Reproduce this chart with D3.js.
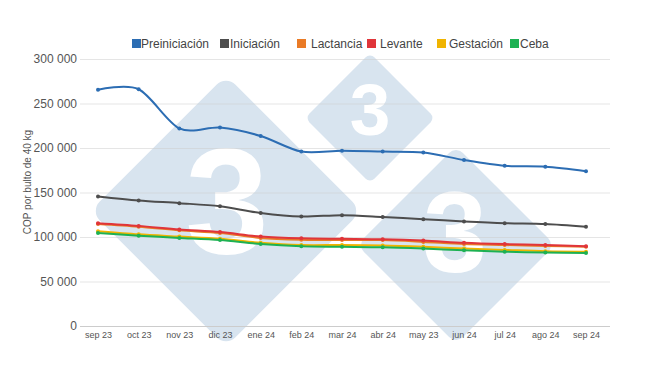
<!DOCTYPE html>
<html>
<head>
<meta charset="utf-8">
<script src="https://cdn.jsdelivr.net/npm/d3@7"></script>
<style>
  body { margin: 0; background: #fff; }
  svg { font-family: "Liberation Sans", Arial, sans-serif; }
</style>
</head>
<body>
<div id="graph"></div>
<script>
// data
var months = ["sep 23", "oct 23", "nov 23", "dic 23", "ene 24", "feb 24", "mar 24",
              "abr 24", "may 23", "jun 24", "jul 24", "ago 24", "sep 24"];
var preiniciacion = [265500, 266000, 222000, 223000, 213500, 196000, 197000, 196000, 195000, 186500, 180000, 179000, 174000];
var iniciacion    = [145500, 141000, 138000, 134500, 127000, 123000, 124500, 122500, 120000, 117500, 115500, 114500, 111500];
var lactancia     = [114500, 111500, 107500, 104500, 99000, 97000, 96500, 96500, 94500, 92000, 91000, 90000, 89000];
var levante       = [115500, 112500, 108500, 105500, 100500, 98500, 98000, 97500, 96000, 93500, 92000, 91000, 89500];
var gestacion     = [106500, 103000, 100500, 98000, 93500, 91000, 91000, 90500, 89000, 87000, 85500, 84000, 83500];
var ceba          = [104500, 101500, 99000, 96500, 92000, 89500, 89000, 88500, 87000, 85000, 83500, 82500, 82000];
var seriesNames = ["Preiniciación", "Iniciación", "Lactancia", "Levante", "Gestación", "Ceba"];
var yTicks = [0, 50000, 100000, 150000, 200000, 250000, 300000];

var colors = ["#2c6db3", "#4d4d4d", "#ea7b26", "#e0353a", "#f0b400", "#1db153"];
var series = [preiniciacion, iniciacion, lactancia, levante, gestacion, ceba];

var width = 650, height = 366;

var svg = d3.select("#graph").append("svg")
    .attr("width", width)
    .attr("height", height);

// scales
var x = d3.scalePoint().domain(months).range([98, 586]);
var y = d3.scaleLinear().domain([0, 300000]).range([326, 59]);

var fmt = d3.formatLocale({decimal: ",", thousands: " ", grouping: [3], currency: ["", ""]}).format(",");

// watermark diamonds (background logo)
var marks = [
  {cx: 226, cy: 211, side: 192, tx: 227, ty: 199, fs: 150},
  {cx: 370, cy: 118, side: 92, tx: 370, ty: 109, fs: 73},
  {cx: 456, cy: 245, side: 140, tx: 455, ty: 231, fs: 115}
];
var wm = svg.append("g");
marks.forEach(function(m) {
  wm.append("rect")
      .attr("x", -m.side / 2).attr("y", -m.side / 2)
      .attr("width", m.side).attr("height", m.side)
      .attr("rx", m.side * 0.07)
      .attr("fill", "#d8e4ef")
      .attr("transform", "translate(" + m.cx + "," + m.cy + ") rotate(45)");
  wm.append("text")
      .attr("x", m.tx).attr("y", m.ty + m.fs * 0.358)
      .attr("text-anchor", "middle")
      .style("font-size", m.fs + "px")
      .style("font-weight", "bold")
      .attr("fill", "#fff")
      .text("3");
});

// gridlines + y axis labels
var yAxis = svg.append("g")
    .attr("transform", "translate(80,0)")
    .call(d3.axisLeft(y).tickValues(yTicks).tickSize(-530).tickPadding(3).tickFormat(fmt));
yAxis.select(".domain").remove();
yAxis.selectAll(".tick line").attr("stroke", "#ccc").attr("stroke-opacity", 0.5);
yAxis.selectAll(".tick text").attr("fill", "#555").style("font-size", "12px");

// x axis
var xAxis = svg.append("g")
    .attr("transform", "translate(0,326)")
    .call(d3.axisBottom(x).tickSize(0).tickPadding(6));
xAxis.select(".domain").remove();
xAxis.selectAll(".tick text").attr("fill", "#555").style("font-size", "9px");
svg.append("line")
    .attr("x1", 80).attr("x2", 610)
    .attr("y1", 326.5).attr("y2", 326.5)
    .attr("stroke", "#ccc");

// axis title
svg.append("text")
    .attr("transform", "translate(31,182) rotate(-90)")
    .attr("text-anchor", "middle")
    .style("font-size", "10px")
    .attr("fill", "#555")
    .text("COP por bulto de 40 kg");

// lines
var line = d3.line()
    .x(function(d, i) { return x(months[i]); })
    .y(function(d) { return y(d); })
    .curve(d3.curveCardinal.tension(0.1));

series.forEach(function(s, k) {
  var g = svg.append("g");
  g.append("path")
      .datum(s)
      .attr("fill", "none")
      .attr("stroke", colors[k])
      .attr("stroke-width", 2)
      .attr("d", line);
  g.selectAll("circle")
      .data(s)
    .enter().append("circle")
      .attr("cx", function(d, i) { return x(months[i]); })
      .attr("cy", function(d) { return y(d); })
      .attr("r", 2)
      .attr("fill", colors[k]);
});

// legend
var legendX = [132, 220, 297, 367, 437, 510];
var legendTx = [9, 10, 14, 13, 12, 10];
var legend = svg.append("g");
seriesNames.forEach(function(name, k) {
  legend.append("rect")
      .attr("x", legendX[k]).attr("y", 39)
      .attr("width", 9).attr("height", 9)
      .attr("fill", colors[k]);
  legend.append("text")
      .attr("x", legendX[k] + legendTx[k]).attr("y", 48)
      .style("font-size", "12px")
      .attr("fill", "#444")
      .text(name);
});
</script>
</body>
</html>
